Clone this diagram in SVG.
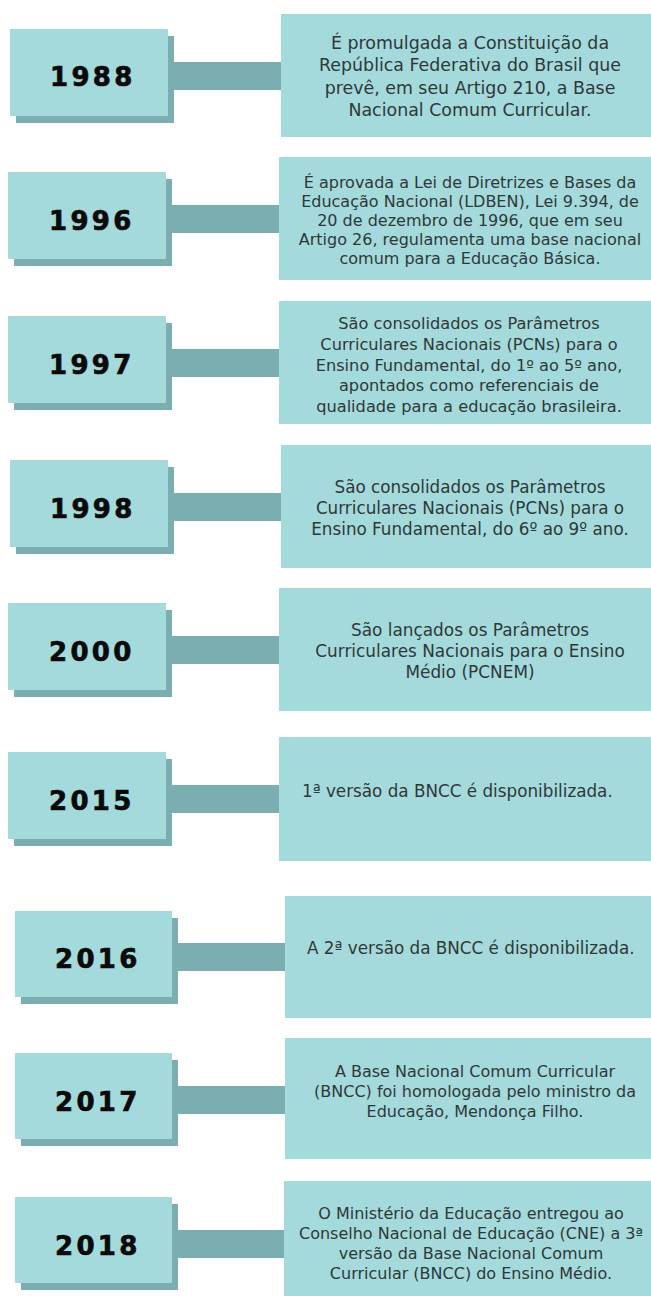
<svg xmlns="http://www.w3.org/2000/svg" width="651" height="1296" viewBox="0 0 651 1296">
<style>
.year{fill:#a4dadc}
.shadow{fill:#7aaeb0}
.bar{fill:#7aaeb0}
.card{fill:#a4dadc}
.yt{font-family:"DejaVu Sans",sans-serif;font-weight:bold;font-size:26px;letter-spacing:3.3px;fill:#0a0a0a;stroke:#0a0a0a;stroke-width:0.7px}
.bt{font-family:"DejaVu Sans",sans-serif;font-size:16px;fill:#2f3838;text-anchor:middle}
.bl{font-family:"DejaVu Sans",sans-serif;font-size:16.8px;fill:#2f3838}
</style>
<rect width="651" height="1296" fill="#ffffff"/>
<g id="connectors">
<rect class="bar" x="166" y="62" width="116" height="28"/>
<rect class="bar" x="164" y="205" width="116" height="28"/>
<rect class="bar" x="164" y="349" width="116" height="28"/>
<rect class="bar" x="166" y="493" width="116" height="28"/>
<rect class="bar" x="164" y="636" width="116" height="28"/>
<rect class="bar" x="164" y="785" width="116" height="28"/>
<rect class="bar" x="171" y="943" width="115" height="28"/>
<rect class="bar" x="171" y="1086" width="115" height="28"/>
<rect class="bar" x="171" y="1230" width="114" height="28"/>
</g>
<g id="node-1988">
<rect class="shadow" x="16" y="36" width="158" height="87"/>
<rect class="year" x="10" y="29" width="158" height="87"/>
<text class="yt" x="50" y="86">1988</text>
<rect class="card" x="281" y="14" width="370" height="123"/>
<text class="bt" style="font-size:17.4px" x="470"><tspan x="470" y="49">É promulgada a Constituição da</tspan><tspan x="470" y="71">República Federativa do Brasil que</tspan><tspan x="470" y="94">prevê, em seu Artigo 210, a Base</tspan><tspan x="470" y="116">Nacional Comum Curricular.</tspan></text>
</g>
<g id="node-1996">
<rect class="shadow" x="14" y="179" width="158" height="87"/>
<rect class="year" x="8" y="172" width="158" height="87"/>
<text class="yt" x="49" y="230">1996</text>
<rect class="card" x="279" y="157" width="372" height="123"/>
<text class="bt" x="470"><tspan x="470" y="188">É aprovada a Lei de Diretrizes e Bases da</tspan><tspan x="470" y="207">Educação Nacional (LDBEN), Lei 9.394, de</tspan><tspan x="470" y="226">20 de dezembro de 1996, que em seu</tspan><tspan x="470" y="245">Artigo 26, regulamenta uma base nacional</tspan><tspan x="470" y="264">comum para a Educação Básica.</tspan></text>
</g>
<g id="node-1997">
<rect class="shadow" x="14" y="323" width="158" height="87"/>
<rect class="year" x="8" y="316" width="158" height="87"/>
<text class="yt" x="49" y="374">1997</text>
<rect class="card" x="279" y="301" width="372" height="123"/>
<text class="bt" style="font-size:16.2px" x="469"><tspan x="469" y="329">São consolidados os Parâmetros</tspan><tspan x="469" y="350">Curriculares Nacionais (PCNs) para o</tspan><tspan x="469" y="371">Ensino Fundamental, do 1º ao 5º ano,</tspan><tspan x="469" y="391">apontados como referenciais de</tspan><tspan x="469" y="412">qualidade para a educação brasileira.</tspan></text>
</g>
<g id="node-1998">
<rect class="shadow" x="16" y="467" width="158" height="87"/>
<rect class="year" x="10" y="460" width="158" height="87"/>
<text class="yt" x="50" y="518">1998</text>
<rect class="card" x="281" y="445" width="370" height="123"/>
<text class="bt" style="font-size:16.8px" x="470"><tspan x="470" y="493">São consolidados os Parâmetros</tspan><tspan x="470" y="514">Curriculares Nacionais (PCNs) para o</tspan><tspan x="470" y="535">Ensino Fundamental, do 6º ao 9º ano.</tspan></text>
</g>
<g id="node-2000">
<rect class="shadow" x="14" y="610" width="158" height="87"/>
<rect class="year" x="8" y="603" width="158" height="87"/>
<text class="yt" x="49" y="661">2000</text>
<rect class="card" x="279" y="588" width="372" height="123"/>
<text class="bt" style="font-size:16.9px" x="470"><tspan x="470" y="636">São lançados os Parâmetros</tspan><tspan x="470" y="657">Curriculares Nacionais para o Ensino</tspan><tspan x="470" y="678">Médio (PCNEM)</tspan></text>
</g>
<g id="node-2015">
<rect class="shadow" x="14" y="759" width="158" height="87"/>
<rect class="year" x="8" y="752" width="158" height="87"/>
<text class="yt" x="49" y="810">2015</text>
<rect class="card" x="279" y="737" width="372" height="124"/>
<text class="bl" x="302" y="797">1ª versão da BNCC é disponibilizada.</text>
</g>
<g id="node-2016">
<rect class="shadow" x="21" y="918" width="157" height="86"/>
<rect class="year" x="15" y="911" width="157" height="86"/>
<text class="yt" x="55" y="968">2016</text>
<rect class="card" x="285" y="896" width="366" height="122"/>
<text class="bl" x="307" y="954">A 2ª versão da BNCC é disponibilizada.</text>
</g>
<g id="node-2017">
<rect class="shadow" x="21" y="1060" width="157" height="86"/>
<rect class="year" x="15" y="1053" width="157" height="86"/>
<text class="yt" x="55" y="1111">2017</text>
<rect class="card" x="285" y="1038" width="366" height="121"/>
<text class="bt" x="475"><tspan x="475" y="1077">A Base Nacional Comum Curricular</tspan><tspan x="475" y="1097">(BNCC) foi homologada pelo ministro da</tspan><tspan x="475" y="1117">Educação, Mendonça Filho.</tspan></text>
</g>
<g id="node-2018">
<rect class="shadow" x="21" y="1204" width="157" height="86"/>
<rect class="year" x="15" y="1197" width="157" height="86"/>
<text class="yt" x="55" y="1255">2018</text>
<rect class="card" x="284" y="1181" width="367" height="115"/>
<text class="bt" x="471"><tspan x="471" y="1219">O Ministério da Educação entregou ao</tspan><tspan x="471" y="1239">Conselho Nacional de Educação (CNE) a 3ª</tspan><tspan x="471" y="1259">versão da Base Nacional Comum</tspan><tspan x="471" y="1279">Curricular (BNCC) do Ensino Médio.</tspan></text>
</g>
</svg>
